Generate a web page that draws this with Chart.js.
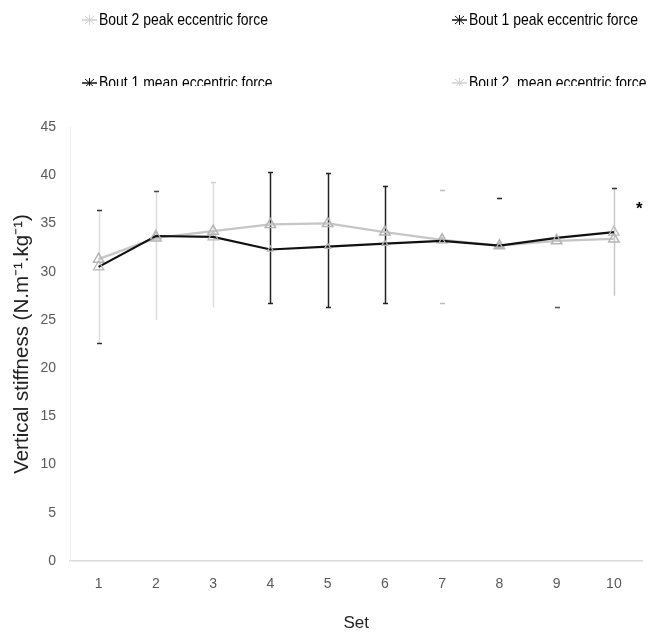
<!DOCTYPE html>
<html><head><meta charset="utf-8">
<script src="https://cdn.jsdelivr.net/npm/chart.js@4/dist/chart.umd.min.js"></script>
<style>
html,body{margin:0;padding:0;background:#fff;}
#wrap{position:relative;width:650px;height:633px;}
#legend{position:absolute;left:0;top:0;width:650px;height:86px;overflow:hidden;font-family:"Liberation Sans",sans-serif;font-size:17px;color:#000;}
.item{position:absolute;white-space:pre;line-height:20px;height:20px;}
.item svg{vertical-align:-2px;margin-right:2px}
.item span{display:inline-block;transform:scaleX(0.82);transform-origin:0 50%;}
#star{position:absolute;left:636px;top:200px;font:bold 17px "Liberation Sans",sans-serif;line-height:18px;}
</style></head>
<body>
<div id="wrap">
<canvas id="c" width="650" height="633"></canvas>
<div id="legend"></div>
<div id="star">*</div>
</div>
<script>
// ---- data ----
const setLabels = ['1','2','3','4','5','6','7','8','9','10'];
const seriesNames = ['Bout 2 peak eccentric force','Bout 1 peak eccentric force','Bout 1 mean eccentric force','Bout 2  mean eccentric force'];
const bout2Peak = [31.3, 33.5, 34.2, 34.9, 35.0, 34.1, 33.3, 32.7, 33.2, 33.4];
const bout1Peak = [30.5, 33.7, 33.6, 32.3, 32.6, 32.9, 33.2, 32.7, 33.5, 34.1];
const errUpper  = [36.4, 38.4, 39.3, 40.3, 40.2, 38.9, 38.5, 37.6, null, 38.7];
const errLower  = [22.6, 25.0, 26.3, 26.7, 26.3, 26.7, 26.7, null, 26.3, 27.5];
const yMin = 0, yMax = 45, yStep = 5;

// ---- styles ----
const legendColors = ['#d0d0d0','#111111','#111111','#cfcfcf'];
const stemColors = ['#dcdcdc','#dcdcdc','#dcdcdc','#222','#222','#222',null,null,null,'#c8c8c8'];
const capUpColors = ['#333','#444','#d0d0d0','#222','#222','#222','#bbb','#222',null,'#333'];
const capLoColors = ['#333',null,null,'#222','#222','#222','#bbb',null,'#555',null];

// legend
const lg = document.getElementById('legend');
const pos = [[82,10],[452,10],[82,73],[452,73]];
seriesNames.forEach((n,i)=>{
  const d = document.createElement('div');
  d.className='item';
  d.style.left=pos[i][0]+'px'; d.style.top=pos[i][1]+'px';
  const c = legendColors[i];
  d.innerHTML = '<svg width="15" height="14"><line x1="0" y1="7" x2="15" y2="7" stroke="'+c+'" stroke-width="1.5"/>'+
   '<line x1="7.5" y1="2" x2="7.5" y2="12" stroke="'+c+'" stroke-width="1"/>'+
   '<line x1="3" y1="3" x2="12" y2="11" stroke="'+c+'" stroke-width="1"/>'+
   '<line x1="3" y1="11" x2="12" y2="3" stroke="'+c+'" stroke-width="1"/></svg>';
  const s = document.createElement('span');
  s.textContent = n;
  d.appendChild(s);
  lg.appendChild(d);
});

const errorBars = {
  id:'errorBars',
  beforeDatasetsDraw(chart){
    const {ctx, scales:{x,y}} = chart;
    ctx.save();
    for(let i=0;i<setLabels.length;i++){
      const px = Math.round(x.getPixelForValue(i))+0.5;
      const hi = errUpper[i], lo = errLower[i];
      if(stemColors[i] && hi!=null && lo!=null){
        ctx.strokeStyle=stemColors[i]; ctx.lineWidth=1.5;
        ctx.beginPath(); ctx.moveTo(px,y.getPixelForValue(hi)); ctx.lineTo(px,y.getPixelForValue(lo)); ctx.stroke();
      }
      ctx.lineWidth=1.5;
      if(hi!=null && capUpColors[i]){
        ctx.strokeStyle=capUpColors[i];
        const py=Math.round(y.getPixelForValue(hi))+0.5;
        ctx.beginPath(); ctx.moveTo(px-2.5,py); ctx.lineTo(px+2.5,py); ctx.stroke();
      }
      if(lo!=null && capLoColors[i]){
        ctx.strokeStyle=capLoColors[i];
        const py=Math.round(y.getPixelForValue(lo))+0.5;
        ctx.beginPath(); ctx.moveTo(px-2.5,py); ctx.lineTo(px+2.5,py); ctx.stroke();
      }
    }
    ctx.restore();
  }
};

new Chart(document.getElementById('c'),{
  type:'line',
  data:{
    labels:setLabels,
    datasets:[
      {label:seriesNames[0], data:bout2Peak, borderColor:'#c6c6c6', borderWidth:2.25,
       pointStyle:'triangle', pointRadius:6, pointBorderColor:'#b4b4b4', pointBorderWidth:1.5,
       pointBackgroundColor:'rgba(255,255,255,0)', tension:0, order:2},
      {label:seriesNames[1], data:bout1Peak, borderColor:'#111', borderWidth:2.2,
       pointStyle:'triangle', pointRadius:[6,6,6,3.5,3.5,3.5,3.5,3.5,3.5,6], pointBorderColor:'#b8b8b8', pointBorderWidth:1.2,
       pointBackgroundColor:'rgba(255,255,255,0)', tension:0, order:1}
    ]
  },
  options:{
    responsive:false, animation:false,
    layout:{padding:{top:127,right:3,left:0,bottom:0}},
    plugins:{legend:{display:false}, tooltip:{enabled:false}},
    scales:{
      x:{
        offset:true,
        grid:{display:false, drawTicks:false},
        border:{display:true,color:'#d9d9d9',width:1.5},
        ticks:{color:'#595959', padding:15, font:{family:'"Liberation Sans", sans-serif', size:14}},
        title:{display:true,text:'Set',color:'#222',font:{family:'"Liberation Sans", sans-serif',size:17},padding:{top:0,bottom:-1}},
        afterFit(s){s.height=72;}
      },
      y:{
        min:yMin,max:yMax,
        grid:{display:false, drawTicks:false},
        border:{display:true,color:'#efefef',width:1},
        ticks:{stepSize:yStep,color:'#595959',padding:14,font:{family:'"Liberation Sans", sans-serif', size:14}},
        title:{display:true,text:'Vertical stiffness (N.m⁻¹.kg⁻¹)',color:'#222',font:{family:'"Liberation Sans", sans-serif',size:20.5},padding:{top:10,bottom:0}},
        afterFit(s){s.width=70;}
      }
    }
  },
  plugins:[errorBars]
});
</script>
</body></html>
